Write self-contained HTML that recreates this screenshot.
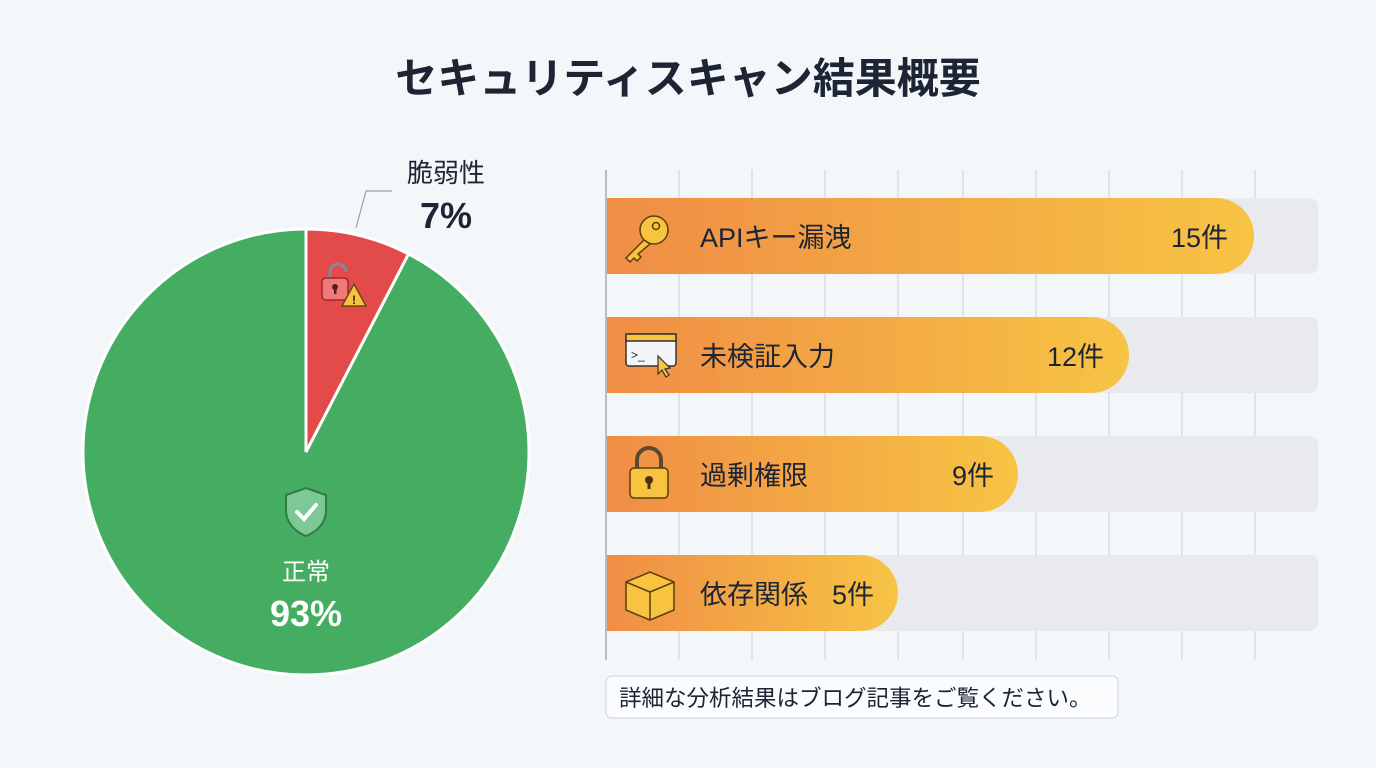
<!DOCTYPE html>
<html><head><meta charset="utf-8"><style>
body{margin:0;background:#f4f7fa;font-family:"Liberation Sans","Noto Sans CJK JP",sans-serif;}
</style></head><body>
<svg width="1376" height="768" viewBox="0 0 1376 768" xmlns="http://www.w3.org/2000/svg" style="display:block">
<defs>
<linearGradient id="g" x1="0" x2="1" y1="0" y2="0"><stop offset="0" stop-color="#f08d45"/><stop offset="1" stop-color="#f7c444"/></linearGradient>
</defs>
<rect width="1376" height="768" fill="#f4f7fa"/>
<text x="688" y="93" text-anchor="middle" font-size="42" font-weight="bold" fill="#1d2433" font-family="Liberation Sans,Noto Sans CJK JP,sans-serif">セキュリティスキャン結果概要</text>
<circle cx="306" cy="452" r="223" fill="#45ad62" stroke="#fff" stroke-width="3"/>
<path d="M306 452 L306 229 A223 223 0 0 1 408.5 254 Z" fill="#e34b4a" stroke="#fff" stroke-width="3"/>
<polyline points="356,228 366,191 392,191" fill="none" stroke="#9aa0a8" stroke-width="1.2"/>
<text x="446" y="182" text-anchor="middle" font-size="26" fill="#1d2433">脆弱性</text>
<text x="446" y="228" text-anchor="middle" font-size="36" font-weight="bold" fill="#1d2433">7%</text>
<g transform="translate(322,262)">
<path d="M8 16 V10 A8 8 0 0 1 24 10" fill="none" stroke="#7c8a9c" stroke-width="3"/>
<rect x="0" y="16" width="26" height="22" rx="4" fill="#f07a7a" stroke="#9b2a2a" stroke-width="1.5"/>
<circle cx="13" cy="25" r="3" fill="#5a1a1a"/><rect x="12" y="26" width="2.5" height="6" fill="#5a1a1a"/>
<path d="M32 22 L44 44 L20 44 Z" fill="#f8c440" stroke="#6b4a10" stroke-width="1.5"/>
<text x="32" y="42" text-anchor="middle" font-size="12" font-weight="bold" fill="#222">!</text>
</g>
<g transform="translate(286,488)">
<path d="M20 0 L40 7 V22 C40 36 30 44 20 48 C10 44 0 36 0 22 V7 Z" fill="#7cc995" stroke="#2f7a46" stroke-width="2"/>
<path d="M11 24 L18 31 L30 17" fill="none" stroke="#fff" stroke-width="4" stroke-linecap="round"/>
</g>
<text x="306" y="580" text-anchor="middle" font-size="24" fill="#fff">正常</text>
<text x="306" y="626" text-anchor="middle" font-size="36" font-weight="bold" fill="#fff">93%</text>
<g stroke="#dadde2" stroke-width="1.5">
<line x1="679" y1="170" x2="679" y2="660"/><line x1="752" y1="170" x2="752" y2="660"/>
<line x1="825" y1="170" x2="825" y2="660"/><line x1="898" y1="170" x2="898" y2="660"/>
<line x1="963" y1="170" x2="963" y2="660"/><line x1="1036" y1="170" x2="1036" y2="660"/>
<line x1="1109" y1="170" x2="1109" y2="660"/><line x1="1182" y1="170" x2="1182" y2="660"/>
<line x1="1255" y1="170" x2="1255" y2="660"/>
</g>
<g fill="#e8eaee">
<rect x="606" y="198" width="712" height="76" rx="8"/>
<rect x="606" y="317" width="712" height="76" rx="8"/>
<rect x="606" y="436" width="712" height="76" rx="8"/>
<rect x="606" y="555" width="712" height="76" rx="8"/>
</g>
<path d="M606 198 H1216 A38 38 0 0 1 1216 274 H606 Z" fill="url(#g)"/>
<path d="M606 317 H1091 A38 38 0 0 1 1091 393 H606 Z" fill="url(#g)"/>
<path d="M606 436 H980 A38 38 0 0 1 980 512 H606 Z" fill="url(#g)"/>
<path d="M606 555 H860 A38 38 0 0 1 860 631 H606 Z" fill="url(#g)"/>
<line x1="606" y1="170" x2="606" y2="660" stroke="#b8bcc4" stroke-width="2"/>
<g font-size="27" fill="#1d2433">
<text x="700" y="247">APIキー漏洩</text><text x="1228" y="247" text-anchor="end">15件</text>
<text x="700" y="366">未検証入力</text><text x="1104" y="366" text-anchor="end">12件</text>
<text x="700" y="485">過剰権限</text><text x="994" y="485" text-anchor="end">9件</text>
<text x="700" y="604">依存関係</text><text x="874" y="604" text-anchor="end">5件</text>
</g>
<g transform="translate(624,212)">
<circle cx="30" cy="18" r="14" fill="#f8c440" stroke="#5a3d10" stroke-width="1.5"/><circle cx="32" cy="14" r="3.5" fill="none" stroke="#5a3d10" stroke-width="1.5"/>
<path d="M20 28 L2 46 L6 50 L10 46 L13 49 L17 45 L14 42 L26 32 Z" fill="#f8c440" stroke="#5a3d10" stroke-width="1.5"/>
</g>
<g transform="translate(626,334)">
<rect x="0" y="0" width="50" height="32" rx="3" fill="#f3f5f8" stroke="#333" stroke-width="1.5"/>
<rect x="0" y="0" width="50" height="7" fill="#f8c440" stroke="#333" stroke-width="1.5"/>
<text x="5" y="25" font-size="12" fill="#222">&gt;_</text>
<path d="M32 22 L32 40 L36 36 L40 43 L43 41 L39 35 L44 34 Z" fill="#f8c440" stroke="#333" stroke-width="1.2"/>
</g>
<g transform="translate(628,446)">
<path d="M9 22 V14 A12 12 0 0 1 33 14 V22" fill="none" stroke="#5a4a30" stroke-width="4"/>
<rect x="2" y="22" width="38" height="30" rx="4" fill="#f8c440" stroke="#5a3d10" stroke-width="1.5"/>
<circle cx="21" cy="34" r="4" fill="#4a3010"/><rect x="19.5" y="35" width="3" height="8" fill="#4a3010"/>
</g>
<g transform="translate(624,570)">
<path d="M2 12 L26 2 L50 12 L50 40 L26 50 L2 40 Z" fill="#f8c440" stroke="#5a3d10" stroke-width="1.5"/>
<path d="M2 12 L26 22 L50 12 M26 22 V50" fill="none" stroke="#5a3d10" stroke-width="1.5"/>
</g>
<rect x="606" y="676" width="512" height="42" rx="6" fill="#fbfcfd" stroke="#cfd3d9"/>
<text x="619" y="706" font-size="22.5" fill="#1d2433">詳細な分析結果はブログ記事をご覧ください。</text>
</svg>
</body></html>
